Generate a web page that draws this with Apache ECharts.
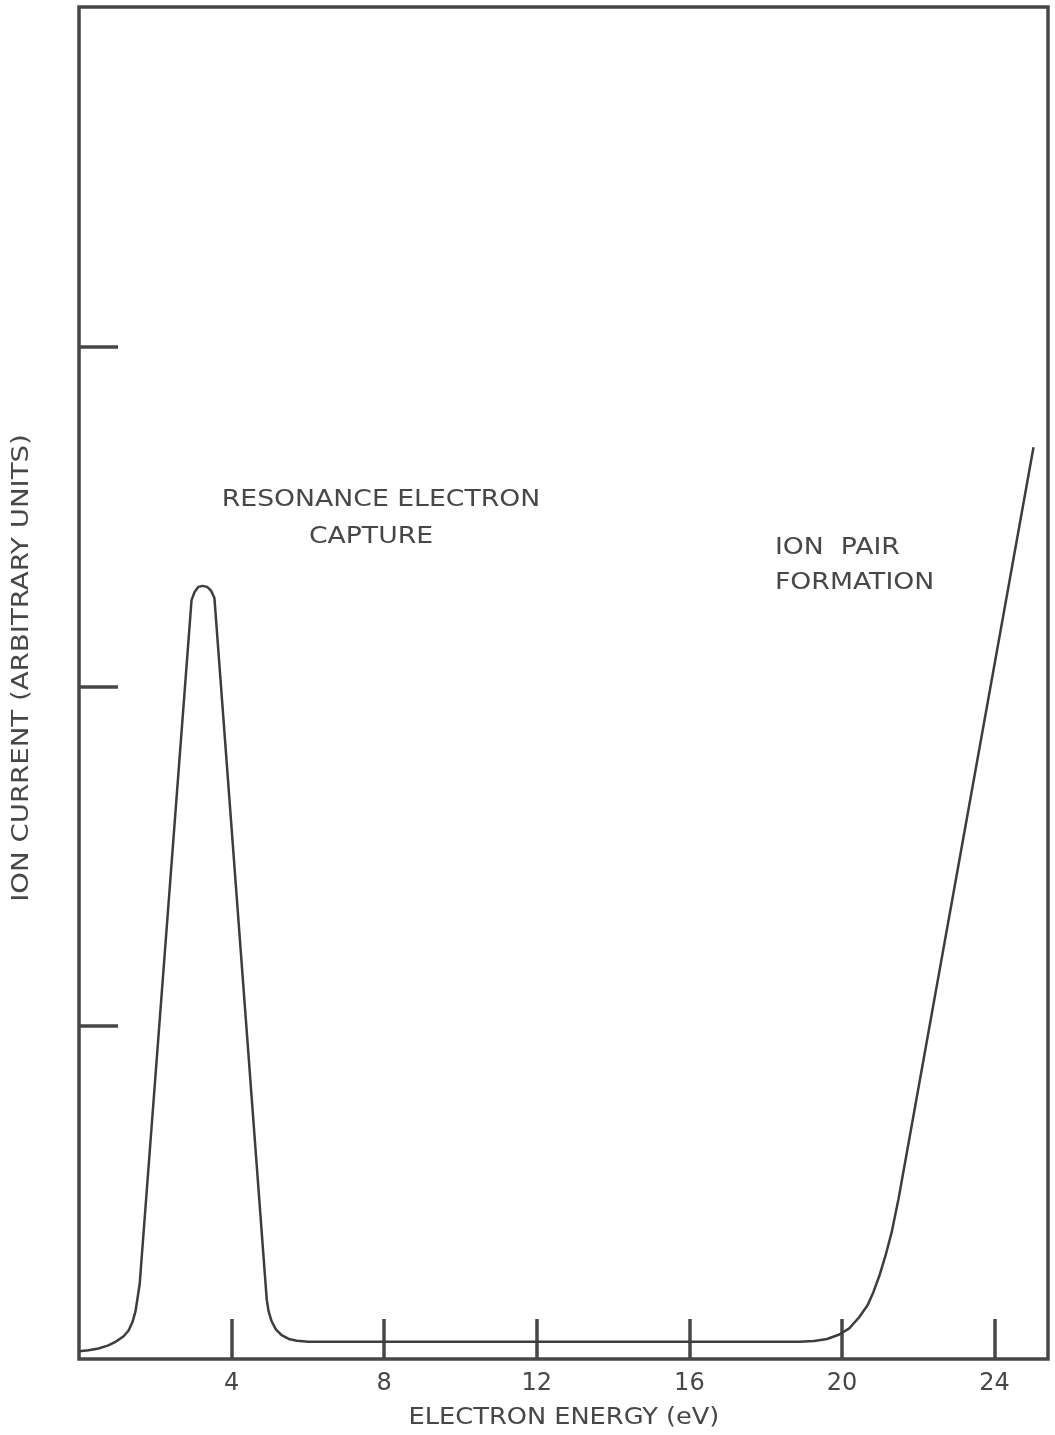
<!DOCTYPE html>
<html>
<head>
<meta charset="utf-8">
<script src="https://cdn.jsdelivr.net/npm/echarts@6/dist/echarts.min.js"></script>
<style>
  html, body { margin: 0; padding: 0; background: #fff; }
  #chart { width: 1055px; height: 1435px; }
</style>
</head>
<body>
<div id="chart"></div>
<script>
// Electron energy (eV) and ion current (arbitrary units) along the traced curve
const energy = [
  0.00, 0.25, 0.51, 0.77, 0.98, 1.17, 1.30, 1.40, 1.48, 1.53, 1.59,
  2.95, 3.03, 3.13, 3.24, 3.36, 3.46, 3.55,
  4.92, 4.97, 5.05, 5.16, 5.31, 5.50, 5.71, 6.02, 12.0, 18.88,
  19.27, 19.61, 19.93, 20.19, 20.45, 20.67, 20.82, 20.98, 21.14, 21.30, 21.48,
  25.02
];
const current = [
  0.043, 0.046, 0.051, 0.060, 0.072, 0.087, 0.104, 0.128, 0.160, 0.196, 0.240,
  2.254, 2.278, 2.293, 2.296, 2.293, 2.282, 2.260,
  0.196, 0.160, 0.131, 0.107, 0.090, 0.079, 0.074, 0.071, 0.071, 0.071,
  0.073, 0.079, 0.092, 0.110, 0.143, 0.178, 0.216, 0.265, 0.324, 0.392, 0.490,
  2.704
];

const xTicks = [4, 8, 12, 16, 20, 24];
const yTicks = [1, 2, 3];

const ink = '#474747';
const font = 'DejaVu Sans';

const chart = echarts.init(document.getElementById('chart'));
chart.setOption({
  backgroundColor: '#ffffff',
  animation: false,
  grid: {
    left: 79, right: 7, top: 7, bottom: 76,
    show: true,
    borderColor: ink,
    borderWidth: 3.5,
    backgroundColor: 'transparent'
  },
  xAxis: {
    type: 'value',
    min: 0,
    max: 25.4,
    axisLine: { show: false },
    splitLine: { show: false },
    axisTick: {
      show: true,
      inside: true,
      length: 40,
      customValues: xTicks,
      lineStyle: { color: ink, width: 3.5 }
    },
    axisLabel: {
      show: true,
      customValues: xTicks,
      margin: 13,
      color: ink,
      fontFamily: font,
      fontSize: 24
    }
  },
  yAxis: {
    type: 'value',
    min: 0.02,
    max: 4.0,
    axisLine: { show: false },
    splitLine: { show: false },
    axisTick: {
      show: true,
      inside: true,
      length: 39,
      customValues: yTicks,
      lineStyle: { color: ink, width: 3.5 }
    },
    axisLabel: { show: false }
  },
  series: [{
    type: 'line',
    data: energy.map((e, i) => [e, current[i]]),
    showSymbol: false,
    smooth: false,
    lineStyle: { color: '#3d3d3d', width: 2.5 },
    z: 3
  }],
  graphic: [
    {
      type: 'text', x: 381, y: 500, scaleX: 1.16,
      style: { text: 'RESONANCE ELECTRON', fill: ink, font: '23px "DejaVu Sans"', textAlign: 'center', textVerticalAlign: 'middle' }
    },
    {
      type: 'text', x: 371, y: 537, scaleX: 1.16,
      style: { text: 'CAPTURE', fill: ink, font: '23px "DejaVu Sans"', textAlign: 'center', textVerticalAlign: 'middle' }
    },
    {
      type: 'text', x: 775, y: 548, scaleX: 1.16,
      style: { text: 'ION  PAIR', fill: ink, font: '23px "DejaVu Sans"', textAlign: 'left', textVerticalAlign: 'middle' }
    },
    {
      type: 'text', x: 775, y: 583, scaleX: 1.16,
      style: { text: 'FORMATION', fill: ink, font: '23px "DejaVu Sans"', textAlign: 'left', textVerticalAlign: 'middle' }
    },
    {
      type: 'text', x: 564, y: 1418, scaleX: 1.115,
      style: { text: 'ELECTRON ENERGY (eV)', fill: ink, font: '23px "DejaVu Sans"', textAlign: 'center', textVerticalAlign: 'middle' }
    },
    {
      type: 'text', x: 22, y: 668, rotation: Math.PI / 2, scaleX: 1.2,
      style: { text: 'ION CURRENT (ARBITRARY UNITS)', fill: ink, font: '23px "DejaVu Sans"', textAlign: 'center', textVerticalAlign: 'middle' }
    }
  ]
});
</script>
</body>
</html>
